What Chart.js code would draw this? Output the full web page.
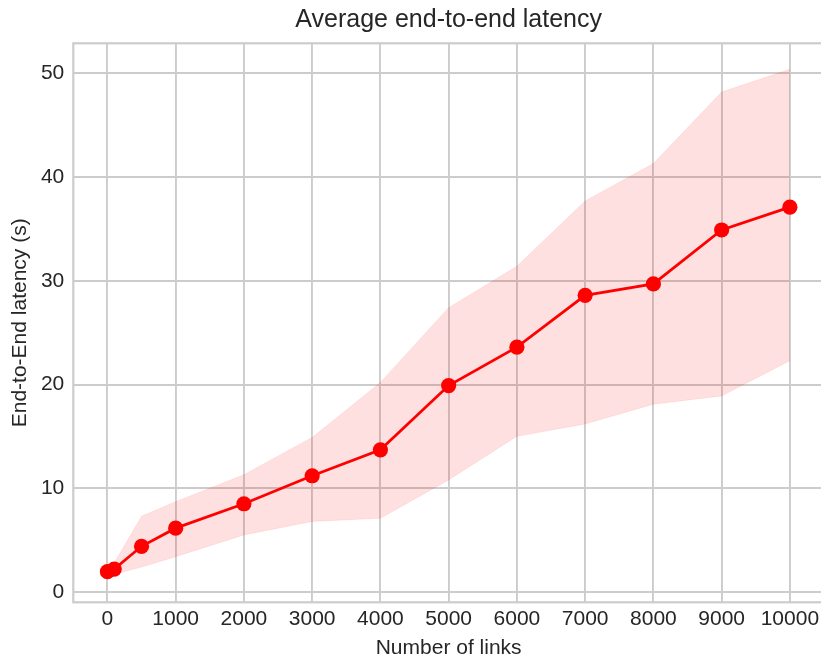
<!DOCTYPE html>
<html>
<head>
<meta charset="utf-8">
<script src="https://cdn.jsdelivr.net/npm/chart.js@4/dist/chart.umd.min.js"></script>
<style>
  html, body { margin: 0; padding: 0; overflow: hidden; background: #ffffff; }
  #wrap { width: 821px; height: 662px; overflow: hidden; }
  canvas { display: block; }
</style>
</head>
<body>
<div id="wrap"><canvas id="chart" width="826" height="662"></canvas></div>
<script>
// Number of links in each run
const links = [0, 100, 500, 1000, 2000, 3000, 4000, 5000, 6000, 7000, 8000, 9000, 10000];
// Mean end-to-end latency (s)
const meanLatency = [1.95, 2.2, 4.4, 6.15, 8.5, 11.2, 13.7, 19.9, 23.6, 28.6, 29.7, 34.9, 37.1];
// Upper and lower edges of the spread band (s)
const upperLatency = [2.1, 2.8, 7.3, 8.7, 11.3, 14.9, 20.2, 27.4, 31.4, 37.7, 41.3, 48.2, 50.4];
const lowerLatency = [1.6, 1.7, 2.4, 3.4, 5.5, 6.8, 7.1, 10.8, 15.0, 16.2, 18.1, 18.9, 22.3];
// Axis tick values
const xTicks = [0, 1000, 2000, 3000, 4000, 5000, 6000, 7000, 8000, 9000, 10000];
const yTicks = [0, 10, 20, 30, 40, 50];

const toPoints = (ys) => links.map((x, i) => ({ x: x, y: ys[i] }));

const textColor = '#262626';
const gridColor = '#cccccc';
const fontFamily = '"Liberation Sans", Arial, sans-serif';

// Light grey frame around the plotting area
const frame = {
  id: 'frame',
  beforeDatasetsDraw(chart) {
    const { ctx, chartArea: a } = chart;
    ctx.save();
    ctx.strokeStyle = gridColor;
    ctx.lineWidth = 2.2;
    ctx.strokeRect(a.left, a.top, a.right - a.left, a.bottom - a.top);
    ctx.restore();
  }
};

new Chart(document.getElementById('chart'), {
  type: 'line',
  data: {
    datasets: [
      {
        label: 'mean',
        data: toPoints(meanLatency),
        borderColor: '#ff0000',
        backgroundColor: '#ff0000',
        borderWidth: 2.8,
        pointRadius: 7.6,
        pointBorderWidth: 0,
        pointBackgroundColor: '#ff0000',
        fill: false,
        tension: 0,
        clip: false,
        order: 0
      },
      {
        label: 'upper',
        data: toPoints(upperLatency),
        borderColor: 'rgba(255,0,0,0.08)',
        borderWidth: 1,
        pointRadius: 0,
        backgroundColor: 'rgba(255,0,0,0.12)',
        fill: '+1',
        tension: 0,
        order: 1
      },
      {
        label: 'lower',
        data: toPoints(lowerLatency),
        borderColor: 'rgba(255,0,0,0.08)',
        borderWidth: 1,
        pointRadius: 0,
        backgroundColor: 'rgba(255,0,0,0.12)',
        fill: false,
        tension: 0,
        order: 2
      }
    ]
  },
  options: {
    responsive: false,
    animation: false,
    events: [],
    layout: { autoPadding: false, padding: { left: 0, right: 2, top: 0, bottom: 0 } },
    plugins: {
      legend: { display: false },
      tooltip: { enabled: false },
      title: {
        display: true,
        fullSize: false,
        text: 'Average end-to-end latency',
        color: textColor,
        font: { family: fontFamily, size: 25, weight: 'normal', lineHeight: 1.2 },
        padding: { top: 5.5, bottom: 7.8 }
      }
    },
    scales: {
      x: {
        type: 'linear',
        min: -500,
        max: 10500,
        afterBuildTicks: (s) => { s.ticks = xTicks.map(v => ({ value: v })); },
        afterFit: (s) => { s.height = 59.7; s.paddingLeft = 0; s.paddingRight = 0; },
        grid: { color: gridColor, lineWidth: 1.9, drawTicks: false },
        border: { display: false },
        ticks: {
          color: textColor,
          font: { family: fontFamily, size: 21 },
          padding: 4,
          maxRotation: 0,
          autoSkip: false,
          callback: (v) => String(v)
        },
        title: {
          display: true,
          text: 'Number of links',
          color: textColor,
          font: { family: fontFamily, size: 21 },
          padding: { top: 1, bottom: 1 }
        }
      },
      y: {
        type: 'linear',
        min: -1.0,
        max: 52.9,
        afterBuildTicks: (s) => { s.ticks = yTicks.map(v => ({ value: v })); },
        afterFit: (s) => { s.width = 73.3; s.paddingTop = 0; s.paddingBottom = 0; },
        grid: { color: gridColor, lineWidth: 1.9, drawTicks: false },
        border: { display: false },
        ticks: {
          color: textColor,
          font: { family: fontFamily, size: 21 },
          padding: 9,
          callback: (v) => String(v)
        },
        title: {
          display: true,
          text: 'End-to-End latency (s)',
          color: textColor,
          font: { family: fontFamily, size: 21 },
          padding: { top: 7.5, bottom: 0 }
        }
      }
    }
  },
  plugins: [frame]
});
</script>
</body>
</html>
